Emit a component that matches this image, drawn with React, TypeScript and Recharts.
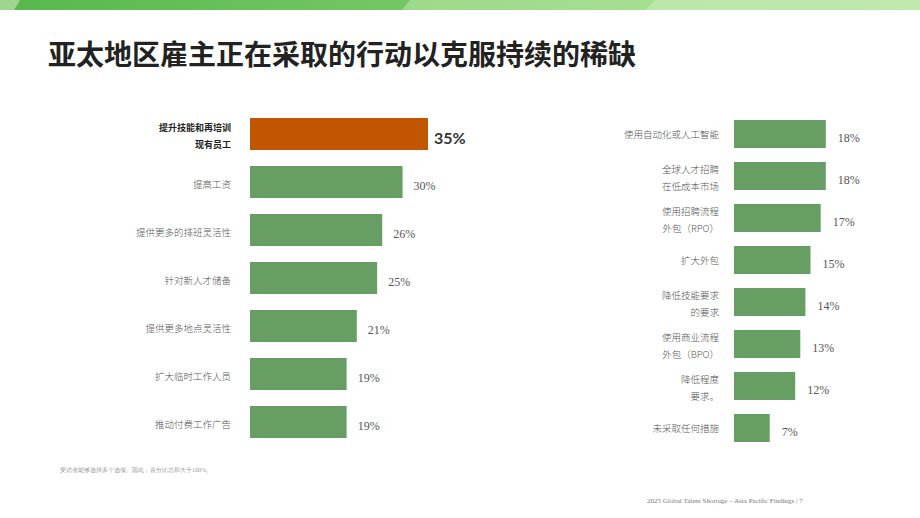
import React from 'react';
import { BarChart, Bar, Cell, XAxis, YAxis, LabelList } from 'recharts';

// left panel: actions, top to bottom
const leftActions = [
  '提升技能和再培训\n现有员工',
  '提高工资',
  '提供更多的排班灵活性',
  '针对新人才储备',
  '提供更多地点灵活性',
  '扩大临时工作人员',
  '推动付费工作广告',
];
const leftShares = [35, 30, 26, 25, 21, 19, 19];

// right panel
const rightActions = [
  '使用自动化或人工智能',
  '全球人才招聘\n在低成本市场',
  '使用招聘流程\n外包（RPO）',
  '扩大外包',
  '降低技能要求\n的要求',
  '使用商业流程\n外包（BPO）',
  '降低程度\n要求。',
  '未采取任何措施',
];
const rightShares = [18, 18, 17, 15, 14, 13, 12, 7];

const TITLE = '亚太地区雇主正在采取的行动以克服持续的稀缺';
const NOTE = '受访者能够选择多个选项。因此，百分比总和大于100%。';
const FOOTER = '2025 Global Talent Shortage – Asia Pacific Findings | 7';

const GREEN = '#679e64';
const ORANGE = '#c25500';
const CJK = '"Noto Sans CJK SC", "Noto Sans", sans-serif';

const leftData = leftActions.map((name, i) => ({ name, value: leftShares[i] }));
const rightData = rightActions.map((name, i) => ({ name, value: rightShares[i] }));

const makeTick = (textX: number, single: number, highlightFirst: boolean) => (props: any) => {
  const { y, payload, index } = props;
  const lines: string[] = String(payload.value).split('\n');
  const bold = highlightFirst && index === 0;
  const lh = 17;
  const start = lines.length === 1 ? y + single : y - ((lines.length - 1) * lh) / 2 + 5;
  return (
    <text
      textAnchor="end"
      fontFamily={CJK}
      fontSize={bold ? 9 : 9.5}
      fontWeight={bold ? 700 : 300}
      fill={bold ? '#222' : '#555'}
    >
      {lines.map((ln, i) => (
        <tspan key={i} x={textX} y={start + i * lh}>
          {ln}
        </tspan>
      ))}
    </text>
  );
};

const makeValue = (gap: number, highlightFirst: boolean) => (props: any) => {
  const { x, y, width, height, value, index } = props;
  const bold = highlightFirst && index === 0;
  return (
    <text
      x={x + width + (bold ? 6 : gap)}
      y={y + height / 2 + (bold ? 10 : 7.5)}
      fontFamily={bold ? 'Lato, "Open Sans", sans-serif' : '"Liberation Serif", serif'}
      fontSize={bold ? 16 : 12}
      fontWeight={bold ? 700 : 400}
      fill={bold ? '#333' : '#555'}
    >
      {value}%
    </text>
  );
};

const Banner = () => (
  <svg width={920} height={10} style={{ position: 'absolute', left: 0, top: 0 }}>
    <defs>
      <linearGradient id="bandA" x1="0" x2="1" y1="0" y2="0">
        <stop offset="0" stopColor="#58b84d" />
        <stop offset="1" stopColor="#74c864" />
      </linearGradient>
      <linearGradient id="bandB" x1="0" x2="1" y1="0" y2="0">
        <stop offset="0" stopColor="#8dd47c" />
        <stop offset="1" stopColor="#a6de92" />
      </linearGradient>
      <linearGradient id="bandC" x1="0" x2="1" y1="0" y2="0">
        <stop offset="0" stopColor="#b0e39e" />
        <stop offset="1" stopColor="#bfe9ad" />
      </linearGradient>
    </defs>
    <rect x={0} y={0} width={920} height={10} fill="url(#bandC)" />
    <polygon points="0,0 655,0 645,10 0,10" fill="url(#bandB)" />
    <polygon points="20,0 410,0 402,10 14,10" fill="url(#bandA)" />
    <polygon points="0,0 20,0 14,10 0,10" fill="#9fd58f" />
  </svg>
);

export default function App() {
  return (
    <div style={{ position: 'absolute', left: 0, top: 0, width: 920, height: 518, background: '#fff', overflow: 'hidden' }}>
      <Banner />
      <div
        style={{
          position: 'absolute',
          left: 48,
          top: 36,
          fontFamily: CJK,
          fontSize: 28,
          fontWeight: 700,
          lineHeight: '34px',
          color: '#222',
          whiteSpace: 'nowrap',
        }}
      >
        {TITLE}
      </div>

      <div style={{ position: 'absolute', left: 0, top: 110 }}>
        <BarChart width={500} height={336} layout="vertical" data={leftData} margin={{ top: 0, right: 72, bottom: 0, left: 0 }}>
          <XAxis type="number" domain={[0, 35]} hide />
          <YAxis
            type="category"
            dataKey="name"
            width={250}
            axisLine={false}
            tickLine={false}
            interval={0}
            tick={makeTick(231, 6, true)}
          />
          <Bar dataKey="value" barSize={32} isAnimationActive={false}>
            {leftData.map((d, i) => (
              <Cell key={d.name} fill={i === 0 ? ORANGE : GREEN} />
            ))}
            <LabelList dataKey="value" content={makeValue(11, true)} />
          </Bar>
        </BarChart>
      </div>

      <div style={{ position: 'absolute', left: 560, top: 113 }}>
        <BarChart width={336} height={336} layout="vertical" data={rightData} margin={{ top: 0, right: 60, bottom: 0, left: 0 }}>
          <XAxis type="number" domain={[0, 20]} hide />
          <YAxis
            type="category"
            dataKey="name"
            width={174}
            axisLine={false}
            tickLine={false}
            interval={0}
            tick={makeTick(159, 4, false)}
          />
          <Bar dataKey="value" barSize={28} fill={GREEN} isAnimationActive={false}>
            <LabelList dataKey="value" content={makeValue(12, false)} />
          </Bar>
        </BarChart>
      </div>

      <div
        style={{
          position: 'absolute',
          left: 60,
          top: 466,
          fontFamily: '"Liberation Serif", serif',
          fontSize: 6,
          color: '#999',
          whiteSpace: 'nowrap',
        }}
      >
        {NOTE}
      </div>
      <div
        style={{
          position: 'absolute',
          left: 647,
          top: 497,
          fontFamily: '"Liberation Serif", serif',
          fontSize: 7,
          color: '#777',
          whiteSpace: 'nowrap',
        }}
      >
        {FOOTER}
      </div>
    </div>
  );
}
